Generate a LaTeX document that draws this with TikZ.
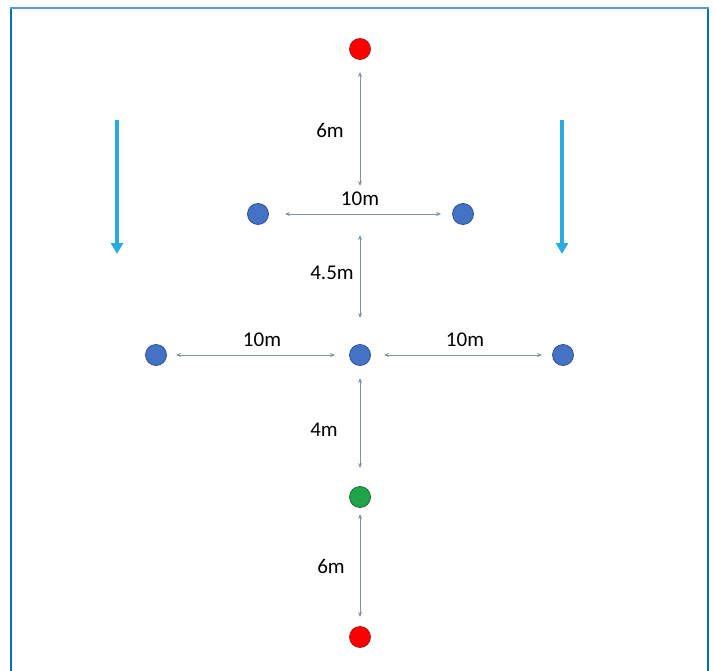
\documentclass[tikz,border=0pt]{standalone}
\usepackage{fontspec}
\setmainfont{Carlito}
\usetikzlibrary{arrows.meta}
\definecolor{dotblue}{HTML}{4472C4}
\definecolor{dotblueline}{HTML}{2F528F}
\definecolor{dotred}{HTML}{FF0000}
\definecolor{dotredline}{HTML}{A02020}
\definecolor{dotgreen}{HTML}{1EA54A}
\definecolor{dotgreenline}{HTML}{1D6B36}
\definecolor{dimgray}{HTML}{8090A8}
\definecolor{flowblue}{HTML}{29ABE2}
\definecolor{frameside}{HTML}{0070C0}
\definecolor{frametop}{HTML}{5B9BD5}
\tikzset{
  dot/.style={circle, minimum size=21pt, inner sep=0pt, line width=0.8pt},
  bluedot/.style={dot, fill=dotblue, draw=dotblueline},
  reddot/.style={dot, fill=dotred, draw=dotredline},
  greendot/.style={dot, fill=dotgreen, draw=dotgreenline},
  dim/.style={draw=dimgray, line width=0.9pt, {Stealth[length=5pt,width=4pt]}-{Stealth[length=5pt,width=4pt]}},
  dimlabel/.style={font=\fontsize{21}{23}\selectfont, text=black, inner sep=0pt},
  flow/.style={draw=flowblue, line width=4pt, -{Triangle[length=11pt,width=12pt]}},
}
\begin{document}
\begin{tikzpicture}[x=1pt,y=-1pt]
\useasboundingbox (0,0) rectangle (714,671);
% frame
\draw[frameside, line width=2pt] (10.5,671) -- (10.5,8);
\draw[frameside, line width=2pt] (707.5,8) -- (707.5,671);
\draw[frametop, line width=2pt] (9.5,8) -- (708.5,8);

% dots
\node[reddot] (rtop) at (360,49) {};
\node[bluedot] (ml) at (258,214) {};
\node[bluedot] (mr) at (463,214) {};
\coordinate (mc) at (360,214);
\node[bluedot] (cc) at (360,355) {};
\node[bluedot] (cl) at (156,355) {};
\node[bluedot] (cr) at (563,355) {};
\node[greendot] (g) at (360,497) {};
\node[reddot] (rbot) at (360,637) {};

% dimension lines
\draw[dim, shorten <=12pt, shorten >=28pt] (rtop) -- (mc);
\draw[dim, shorten <=16pt, shorten >=11pt] (ml) -- (mr);
\draw[dim, shorten <=21pt, shorten >=26pt] (mc) -- (cc);
\draw[dim, shorten <=9pt, shorten >=14pt] (cl) -- (cc);
\draw[dim, shorten <=13pt, shorten >=10pt] (cc) -- (cr);
\draw[dim, shorten <=12pt, shorten >=18pt] (cc) -- (g);
\draw[dim, shorten <=6pt, shorten >=9pt] (g) -- (rbot);

% labels
\node[dimlabel] (l1) at (330,130) {6m};
\node[dimlabel] (l2) at (360,199) {10m};
\node[dimlabel] (l3) at (332,273) {4.5m};
\node[dimlabel] (l4) at (262,340) {10m};
\node[dimlabel] (l5) at (465,340) {10m};
\node[dimlabel] (l6) at (324,430) {4m};
\node[dimlabel] (l7) at (331,566) {6m};

% flow arrows
\coordinate (fla) at (117,120);
\coordinate (flb) at (117,254);
\coordinate (fra) at (562,120);
\coordinate (frb) at (562,254);
\draw[flow] (fla) -- (flb);
\draw[flow] (fra) -- (frb);
\end{tikzpicture}
\end{document}
